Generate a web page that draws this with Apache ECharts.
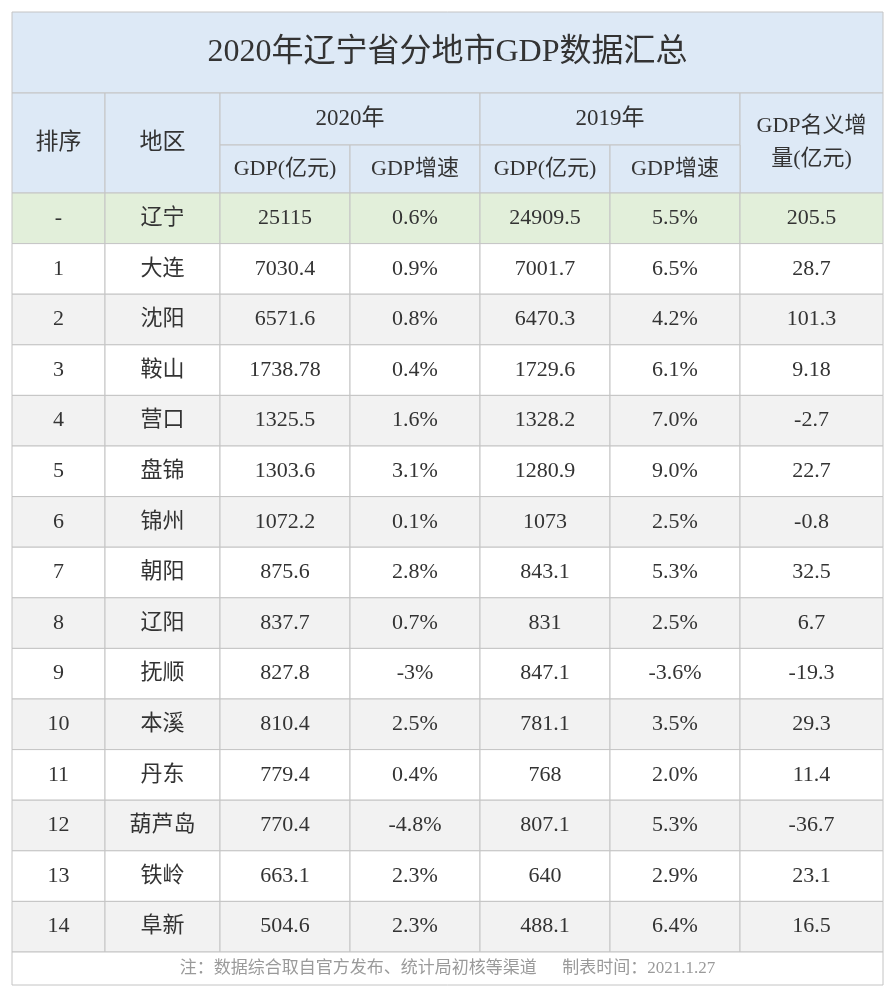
<!DOCTYPE html>
<html>
<head>
<meta charset="utf-8">
<script src="https://cdn.jsdelivr.net/npm/echarts@6/dist/echarts.min.js"></script>
<style>html,body{margin:0;padding:0;background:#fff}#main{width:895px;height:1000px}</style>
</head>
<body>
<div id="main"></div>
<script>
// table content
var title = '2020年辽宁省分地市GDP数据汇总';
var note = '注：数据综合取自官方发布、统计局初核等渠道      制表时间：2021.1.27';
var ranks = ['-', '1', '2', '3', '4', '5', '6', '7', '8', '9', '10', '11', '12', '13', '14'];
var regions = ['辽宁', '大连', '沈阳', '鞍山', '营口', '盘锦', '锦州', '朝阳', '辽阳', '抚顺', '本溪', '丹东', '葫芦岛', '铁岭', '阜新'];
var gdp2020 = ['25115', '7030.4', '6571.6', '1738.78', '1325.5', '1303.6', '1072.2', '875.6', '837.7', '827.8', '810.4', '779.4', '770.4', '663.1', '504.6'];
var growth2020 = ['0.6%', '0.9%', '0.8%', '0.4%', '1.6%', '3.1%', '0.1%', '2.8%', '0.7%', '-3%', '2.5%', '0.4%', '-4.8%', '2.3%', '2.3%'];
var gdp2019 = ['24909.5', '7001.7', '6470.3', '1729.6', '1328.2', '1280.9', '1073', '843.1', '831', '847.1', '781.1', '768', '807.1', '640', '488.1'];
var growth2019 = ['5.5%', '6.5%', '4.2%', '6.1%', '7.0%', '9.0%', '2.5%', '5.3%', '2.5%', '-3.6%', '3.5%', '2.0%', '5.3%', '2.9%', '6.4%'];
var increase = ['205.5', '28.7', '101.3', '9.18', '-2.7', '22.7', '-0.8', '32.5', '6.7', '-19.3', '29.3', '11.4', '-36.7', '23.1', '16.5'];

// layout (axis units = px inside grid)
var xs = [0, 93, 208, 338, 468, 598, 728, 871];
var rowTop = 181, rowH = 50.6;
var headBg = '#dde9f6', totalBg = '#e2efda', grayBg = '#f2f2f2';

var cells = [];
function cell(x0, y0, x1, y1, text, fill, size, color) {
  cells.push([x0, y0, x1, y1, text, fill, size || 21, color || '#333']);
}
cell(0, 0, 871, 81, title, headBg, 32);
cell(xs[0], 81, xs[1], 181, '排序', headBg, 23);
cell(xs[1], 81, xs[2], 181, '地区', headBg, 23);
cell(xs[2], 81, xs[4], 133, '2020年', headBg, 23);
cell(xs[4], 81, xs[6], 133, '2019年', headBg, 23);
cell(xs[6], 81, xs[7], 181, 'GDP名义增\n量(亿元)', headBg, 22);
cell(xs[2], 133, xs[3], 181, 'GDP(亿元)', headBg, 22);
cell(xs[3], 133, xs[4], 181, 'GDP增速', headBg, 22);
cell(xs[4], 133, xs[5], 181, 'GDP(亿元)', headBg, 22);
cell(xs[5], 133, xs[6], 181, 'GDP增速', headBg, 22);
var cols = [ranks, regions, gdp2020, growth2020, gdp2019, growth2019, increase];
for (var r = 0; r < ranks.length; r++) {
  var fill = r === 0 ? totalBg : (r % 2 === 0 ? grayBg : '#ffffff');
  for (var c = 0; c < cols.length; c++) {
    cell(xs[c], rowTop + r * rowH, xs[c + 1], rowTop + (r + 1) * rowH, cols[c][r], fill, 22);
  }
}
var footTop = rowTop + ranks.length * rowH;
cell(0, footTop, 871, 973, note, '#ffffff', 17, '#9a9a9a');

var chart = echarts.init(document.getElementById('main'));
chart.setOption({
  animation: false,
  backgroundColor: '#fff',
  grid: { left: 12, right: 12, top: 12, bottom: 15 },
  xAxis: { type: 'value', min: 0, max: 871, show: false },
  yAxis: { type: 'value', min: 0, max: 973, inverse: true, show: false },
  series: [{
    type: 'custom',
    data: cells,
    renderItem: function (params, api) {
      var p0 = api.coord([api.value(0), api.value(1)]);
      var p1 = api.coord([api.value(2), api.value(3)]);
      var d = cells[params.dataIndex];
      return {
        type: 'group',
        children: [{
          type: 'rect',
          shape: { x: p0[0], y: p0[1], width: p1[0] - p0[0], height: p1[1] - p0[1] },
          style: { fill: d[5], stroke: '#c4c4c4', lineWidth: 1 }
        }, {
          type: 'text',
          style: {
            x: (p0[0] + p1[0]) / 2, y: (p0[1] + p1[1]) / 2,
            text: d[4], fill: d[7], fontSize: d[6], lineHeight: d[6] * 1.5,
            fontFamily: "'Liberation Serif','Noto Sans CJK SC'",
            align: 'center', verticalAlign: 'middle'
          }
        }]
      };
    }
  }]
});
</script>
</body>
</html>
